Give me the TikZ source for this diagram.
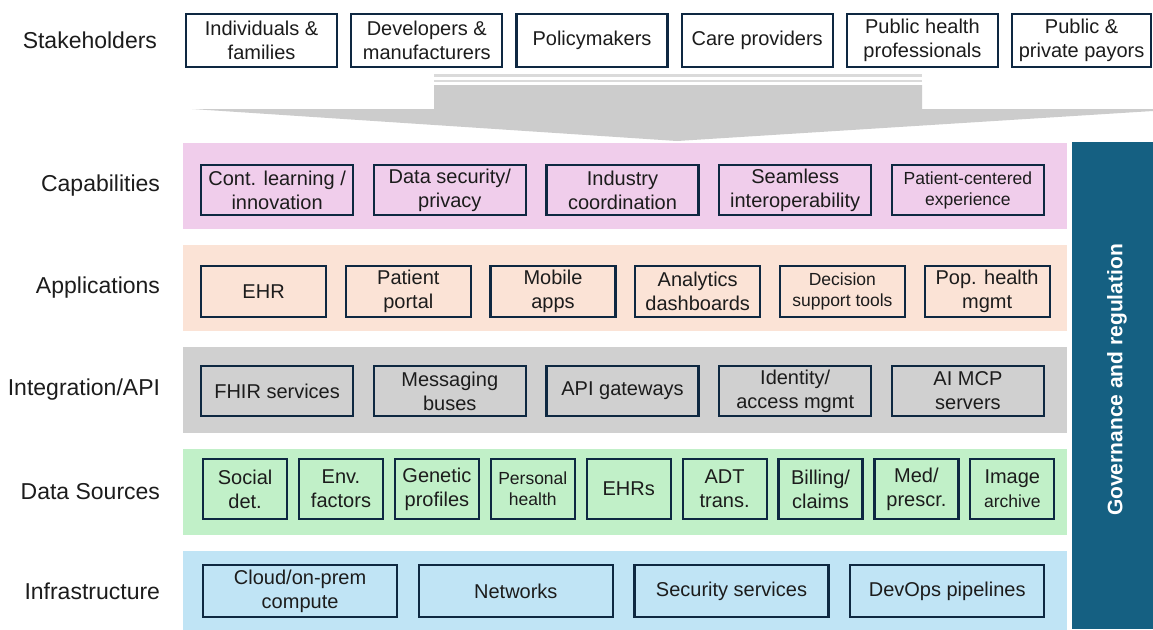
\documentclass[tikz,border=0pt]{standalone}
\usepackage{fontspec}
\setmainfont{Liberation Sans}
\usetikzlibrary{positioning}
\definecolor{cCap}{HTML}{F0CDEB}
\definecolor{cApp}{HTML}{FBE3D6}
\definecolor{cInt}{HTML}{D0D0D0}
\definecolor{cData}{HTML}{C1F0C8}
\definecolor{cInfra}{HTML}{C0E4F5}
\definecolor{cGov}{HTML}{156082}
\definecolor{cEdge}{HTML}{0E2841}
\definecolor{cInk}{HTML}{1C1C1C}
\definecolor{cArrow}{HTML}{CCCCCC}
\definecolor{cArrowLn}{HTML}{DADADA}
\newcommand{\smtxt}{\fontsize{17.5}{21}\selectfont}

\begin{document}
\begin{tikzpicture}[x=1pt, y=-1pt,
  lbl/.style={font=\fontsize{23}{27}\selectfont, text=cInk, inner sep=0pt, outer sep=0pt},
  band/.style={minimum width=884pt, minimum height=86pt, inner sep=0pt, outer sep=0pt, anchor=north west},
  box/.style={draw=cEdge, line width=2.2pt, align=center, inner sep=0pt, text=cInk, font=\fontsize{20}{24}\selectfont},
  sbox/.style={box, fill=white, minimum width=151pt, minimum height=53pt},
  cbox/.style={box, minimum width=152pt, minimum height=50pt},
  abox/.style={box, minimum width=125pt, minimum height=51pt},
  dbox/.style={box, minimum width=84pt, minimum height=60pt},
  fbox/.style={box, minimum width=194pt, minimum height=52pt},
  govtxt/.style={font=\bfseries\fontsize{21}{25}\selectfont, text=white, rotate=90, inner sep=0pt},
]
\useasboundingbox (0,0) rectangle (1153,629);
\fill[white] (0,0) rectangle (1153,629);

% ---------- stakeholders ----------
\node[lbl, anchor=east] (tS) at (157,40.5) {Stakeholders};
\node[sbox, anchor=west] (s1) at (185,40.5) {Individuals \&\\families};
\node[sbox, right=12pt of s1] (s2) {Developers \&\\manufacturers};
\node[sbox, right=12pt of s2] (s3) {Policymakers};
\node[sbox, right=12pt of s3] (s4) {Care providers};
\node[sbox, right=12pt of s4] (s5) {Public health\\professionals};
\node[sbox, right=12pt of s5, minimum width=139pt] (s6) {Public \&\\private payors};

% funnel arrow down into the stack
\fill[cArrow] (434,85) -- (922,85) -- (922,109) -- (1153,109) -- (1153,111)
  -- (677,141) -- (192,109) -- (434,109) -- cycle;
\draw[cArrowLn, line width=2.5pt] (434,75.5) -- (922,75.5);
\draw[cArrowLn, line width=2.5pt] (434,81) -- (922,81);

% ---------- layer bands ----------
\node[band, fill=cCap] (bandC) at (183,143) {};
\node[band, fill=cApp, below=16pt of bandC] (bandA) {};
\node[band, fill=cInt, below=16pt of bandA] (bandI) {};
\node[band, fill=cData, below=16pt of bandI] (bandD) {};
\node[band, fill=cInfra, below=16pt of bandD, minimum height=80pt] (bandF) {};

\node[lbl, left=23pt of bandC] (tC) {Capabilities};
\node[lbl, left=23pt of bandA] (tA) {Applications};
\node[lbl, left=23pt of bandI] (tI) {Integration/API};
\node[lbl, left=23pt of bandD] (tD) {Data Sources};
\node[lbl, left=23pt of bandF] (tF) {Infrastructure};

% ---------- governance bar ----------
\node[fill=cGov, minimum width=81pt, minimum height=487pt, inner sep=0pt, anchor=north west] (gov) at (1072,142) {};
\node[govtxt] (govt) at (1117,380) {Governance and regulation};

% ---------- capabilities ----------
\node[cbox, anchor=west] (c1) at (200,190) {Cont. learning /\\innovation};
\node[cbox, right=18.5pt of c1] (c2) {Data security/\\privacy};
\node[cbox, right=18.5pt of c2] (c3) {Industry\\coordination};
\node[cbox, right=18.5pt of c3] (c4) {Seamless\\interoperability};
\node[cbox, right=18.5pt of c4, font=\smtxt] (c5) {Patient-centered\\experience};

% ---------- applications ----------
\node[abox, anchor=west] (a1) at (200,291.5) {EHR};
\node[abox, right=17.5pt of a1] (a2) {Patient\\portal};
\node[abox, right=17.5pt of a2] (a3) {Mobile\\apps};
\node[abox, right=17.5pt of a3] (a4) {Analytics\\dashboards};
\node[abox, right=17.5pt of a4, font=\smtxt] (a5) {Decision\\support tools};
\node[abox, right=17.5pt of a5] (a6) {Pop. health\\mgmt};

% ---------- integration ----------
\node[cbox, anchor=west] (i1) at (200,391) {FHIR services};
\node[cbox, right=18.5pt of i1] (i2) {Messaging\\buses};
\node[cbox, right=18.5pt of i2] (i3) {API gateways};
\node[cbox, right=18.5pt of i3] (i4) {Identity/\\access mgmt};
\node[cbox, right=18.5pt of i4] (i5) {AI MCP\\servers};

% ---------- data sources ----------
\node[dbox, anchor=west] (d1) at (202,489) {Social\\det.};
\node[dbox, right=9.7pt of d1] (d2) {Env.\\factors};
\node[dbox, right=9.7pt of d2] (d3) {Genetic\\profiles};
\node[dbox, right=9.7pt of d3, font=\smtxt] (d4) {Personal\\health};
\node[dbox, right=9.7pt of d4] (d5) {EHRs};
\node[dbox, right=9.7pt of d5] (d6) {ADT\\trans.};
\node[dbox, right=9.7pt of d6] (d7) {Billing/\\claims};
\node[dbox, right=9.7pt of d7] (d8) {Med/\\prescr.};
\node[dbox, right=9.7pt of d8] (d9) {Image\\\smtxt archive};

% ---------- infrastructure ----------
\node[fbox, anchor=west] (f1) at (202,591) {Cloud/on-prem\\compute};
\node[fbox, right=19.5pt of f1] (f2) {Networks};
\node[fbox, right=19.5pt of f2] (f3) {Security services};
\node[fbox, right=19.5pt of f3] (f4) {DevOps pipelines};

\end{tikzpicture}
\end{document}
